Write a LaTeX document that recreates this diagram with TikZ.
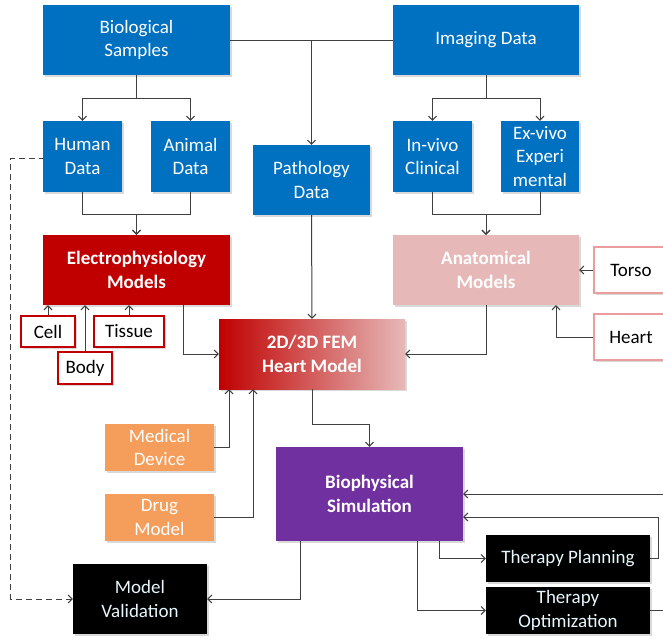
\documentclass[tikz,border=0pt]{standalone}
\usepackage{fontspec}
\setmainfont{Carlito}
\usetikzlibrary{arrows.meta,shadows}
\definecolor{dataBlue}{HTML}{0070C0}
\definecolor{modelRed}{HTML}{C00000}
\definecolor{modelPink}{HTML}{E6B9B8}
\definecolor{inputOrange}{HTML}{F59D5A}
\definecolor{simPurple}{HTML}{7030A0}
\definecolor{lineGray}{HTML}{404040}

\begin{document}
\begin{tikzpicture}[x=1pt,y=-1pt]
  \tikzset{BoxStyle/.style = {
  shape = rectangle,
  inner sep = 1pt,
  align = center,
  text = white,
  font = \fontsize{19}{23.5}\selectfont,
  drop shadow = {shadow xshift=2pt, shadow yshift=-2pt, opacity=0.3}},
  DataStyle/.style = {BoxStyle, fill = dataBlue},
  ModelStyle/.style = {BoxStyle, font = \fontsize{19}{23.5}\selectfont\bfseries},
  PartStyle/.style = {BoxStyle, fill = white, text = black, line width = 2pt},
  InputStyle/.style = {BoxStyle, fill = inputOrange},
  OutputStyle/.style = {BoxStyle, fill = black, text = white!90!cyan},
  EdgeStyle/.style = {draw = lineGray, line width = 1pt},
  ArrowStyle/.style = {EdgeStyle, -{Straight Barb[length=4pt,width=8pt]}}}
  \useasboundingbox (0,0) rectangle (663,638);
  % data sources
  \node[DataStyle, minimum width=187, minimum height=70] (bio) at (136.5,40) {Biological\\Samples};
  \node[DataStyle, minimum width=186, minimum height=70] (img) at (486,40) {Imaging Data};
  \node[DataStyle, minimum width=79, minimum height=71] (human) at (82.5,156.5) {Human\\Data};
  \node[DataStyle, minimum width=79, minimum height=71] (animal) at (190.5,156.5) {Animal\\Data};
  \node[DataStyle, minimum width=117, minimum height=70] (patho) at (311.5,180) {Pathology\\Data};
  \node[DataStyle, minimum width=79, minimum height=71] (invivo) at (432.5,156.5) {In-vivo\\Clinical};
  \node[DataStyle, minimum width=78, minimum height=71] (exvivo) at (540,156.5) {Ex-vivo\\Experi\\mental};
  % models
  \node[ModelStyle, fill=modelRed, minimum width=187, minimum height=70] (electro) at (136.5,270) {Electrophysiology\\Models};
  \node[ModelStyle, fill=modelPink, minimum width=186, minimum height=70] (anat) at (486,270) {Anatomical\\Models};
  \node[PartStyle, draw=modelRed, minimum width=54, minimum height=31] (cell) at (48,331.5) {Cell};
  \node[PartStyle, draw=modelRed, minimum width=70, minimum height=31] (tissue) at (129,331.5) {Tissue};
  \node[PartStyle, draw=modelRed, minimum width=54, minimum height=32] (body) at (85,368) {Body};
  \node[PartStyle, draw=modelPink!85!red, line width=2.5pt, minimum width=74, minimum height=46] (torso) at (631,270) {Torso};
  \node[PartStyle, draw=modelPink!85!red, line width=2.5pt, minimum width=74, minimum height=46] (heart) at (631,337) {Heart};
  \node[ModelStyle, left color=modelRed, right color=modelPink, minimum width=186, minimum height=70] (fem) at (312,354) {2D/3D FEM\\Heart Model};
  \node[InputStyle, minimum width=109, minimum height=47] (medical) at (159.5,447.5) {Medical\\Device};
  \node[InputStyle, minimum width=109, minimum height=47] (drug) at (159.5,517.5) {Drug\\Model};
  % simulation and outputs
  \node[ModelStyle, fill=simPurple, minimum width=187, minimum height=94] (biophys) at (369.5,494) {Biophysical\\Simulation};
  \node[OutputStyle, minimum width=134, minimum height=70] (valid) at (140,599) {Model\\Validation};
  \node[OutputStyle, minimum width=164, minimum height=47] (plan) at (568,558.5) {Therapy Planning};
  \node[OutputStyle, minimum width=164, minimum height=47] (optim) at (568,610.5) {Therapy\\Optimization};
  % connectors
  \draw[EdgeStyle] (bio.east) -- (img.west);
  \draw[ArrowStyle] (bio.east -| patho.north) -- (patho.north);
  \draw[ArrowStyle] (bio.south) -- ++(0,23) -| (human.north);
  \draw[ArrowStyle] (bio.south) -- ++(0,23) -| (animal.north);
  \draw[ArrowStyle] (img.south) -- ++(0,23) -| (invivo.north);
  \draw[ArrowStyle] (img.south) -- ++(0,23) -| (exvivo.north);
  \draw[ArrowStyle] (human.south) -- ++(0,22) -| (electro.north);
  \draw[ArrowStyle] (animal.south) -- ++(0,22) -| (electro.north);
  \draw[ArrowStyle] (invivo.south) -- ++(0,22) -| (anat.north);
  \draw[ArrowStyle] (exvivo.south) -- ++(0,22) -| (anat.north);
  \draw[ArrowStyle] (cell.north) -- (cell.north |- electro.south);
  \draw[ArrowStyle] (tissue.north) -- (tissue.north |- electro.south);
  \draw[ArrowStyle] (body.north) -- (body.north |- electro.south);
  \draw[ArrowStyle] (torso.west) -- (anat.east);
  \draw[ArrowStyle] (heart.west) -| ([xshift=70]anat.south);
  \draw[ArrowStyle] ([xshift=46.5]electro.south) |- (fem.west);
  \draw[ArrowStyle] (patho.south) -- (fem.north);
  \draw[ArrowStyle] (anat.south) |- (fem.east);
  \draw[ArrowStyle] (medical.east) -| ([xshift=-83]fem.south);
  \draw[ArrowStyle] (drug.east) -| ([xshift=-59]fem.south);
  \draw[ArrowStyle] (fem.south) -- ++(0,35) -| (biophys.north);
  \draw[ArrowStyle, {Straight Barb[length=4pt,width=8pt]}-] (valid.east) -| ([xshift=-69.5]biophys.south);
  \draw[ArrowStyle, {Straight Barb[length=4pt,width=8pt]}-, dashed, dash pattern=on 6pt off 4pt] (valid.west) -- ++(-62,0) |- ([yshift=-1.5]human.west);
  \draw[ArrowStyle] ([xshift=69.5]biophys.south) |- (plan.west);
  \draw[ArrowStyle] ([xshift=47.5]biophys.south) |- (optim.west);
  \draw[ArrowStyle] (plan.east) -- ++(8,0) |- ([yshift=-23]biophys.east);
  \draw[ArrowStyle] (optim.east) -- ++(20,0) |- (biophys.east);
\end{tikzpicture}
\end{document}
